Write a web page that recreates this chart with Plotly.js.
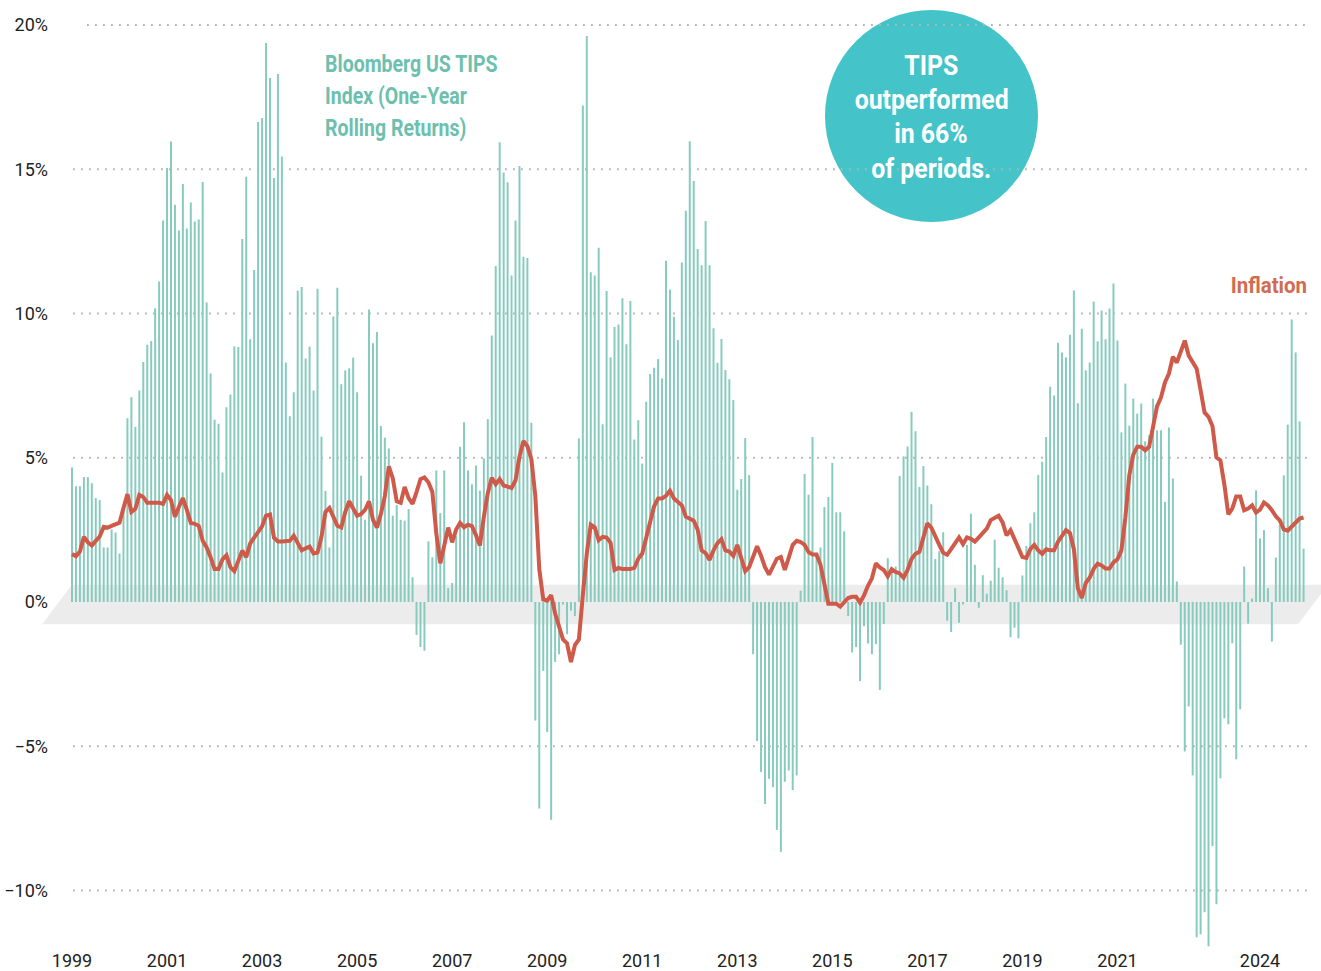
<!DOCTYPE html>
<html>
<head>
<meta charset="utf-8">
<script src="https://cdn.plot.ly/plotly-3.0.1.min.js"></script>
<style>html,body{margin:0;padding:0;background:#fff;}#chart{width:1321px;height:971px;}</style>
</head>
<body>
<div id="chart"></div>
<script>
// Monthly series, January 1999 through December 2024
const startYear = 1999;

// Bloomberg US TIPS Index, one-year rolling returns (%)
const tipsReturns = [
  4.66, 4.01, 4.01, 4.33, 4.33, 4.12, 3.60, 3.53, 1.89, 1.89, 2.51, 2.41,       // 1999
  1.68, 3.12, 6.37, 7.10, 6.07, 7.33, 8.32, 8.92, 9.05, 10.18, 11.11, 13.22,    // 2000
  15.04, 15.96, 13.77, 12.88, 14.49, 12.95, 13.85, 13.19, 13.26, 14.56, 10.38, 7.92, // 2001
  6.32, 6.18, 4.49, 6.75, 7.19, 8.86, 8.84, 12.58, 14.74, 9.11, 11.51, 16.64,   // 2002
  16.78, 19.38, 18.16, 14.70, 18.30, 15.44, 8.30, 6.44, 7.27, 10.79, 10.92, 8.44, // 2003
  8.85, 7.33, 10.86, 5.73, 3.85, 1.89, 9.90, 10.89, 7.55, 8.03, 8.10, 8.47,     // 2004
  7.27, 4.38, 2.85, 10.14, 8.97, 9.36, 6.10, 5.70, 5.32, 2.99, 3.36, 2.85,      // 2005
  2.82, 3.22, 0.86, -1.14, -1.56, -1.69, 2.10, 1.55, 4.56, 3.08, 4.56, 0.48,    // 2006
  0.66, 2.30, 5.38, 6.23, 4.56, 4.08, 4.73, 3.86, 4.98, 6.34, 9.24, 11.65,      // 2007
  15.94, 14.89, 14.55, 11.32, 13.22, 15.11, 11.97, 11.92, 6.21, -4.11, -7.16, -2.39, // 2008
  -4.51, -7.55, -2.08, -1.81, -0.09, -1.12, -0.30, -0.49, 5.67, 17.21, 19.62, 11.43, // 2009
  11.32, 12.28, 6.16, 10.78, 8.48, 9.53, 9.62, 10.53, 8.93, 10.43, 5.63, 6.30,  // 2010
  4.80, 6.94, 7.90, 8.12, 8.42, 7.75, 11.83, 10.83, 9.89, 9.08, 11.77, 13.56,   // 2011
  15.97, 14.59, 12.24, 11.67, 13.21, 11.67, 9.49, 8.29, 9.12, 8.04, 7.72, 7.00, // 2012
  3.89, 4.26, 5.68, 4.40, -1.81, -4.82, -5.89, -7.00, -6.13, -6.42, -7.90, -8.66, // 2013
  -6.23, -5.84, -6.52, -6.01, 0.39, 4.44, 3.72, 5.72, 1.60, 1.89, 3.29, 3.64,   // 2014
  4.82, 3.11, 3.11, 2.45, -0.49, -1.75, -1.56, -2.74, -0.84, -1.44, -1.81, -1.46, // 2015
  -3.05, -0.76, 1.52, 1.16, 1.23, 4.37, 5.05, 5.39, 6.59, 5.92, 3.99, 4.71,     // 2016
  4.04, 3.39, 1.49, 1.76, 2.42, -0.65, -1.04, 0.48, -0.72, -0.09, 1.98, 3.06,   // 2017
  1.29, -0.20, 0.93, 0.29, 0.74, 2.16, 1.19, 0.86, 0.41, -1.22, -0.89, -1.26,   // 2018
  0.92, 1.94, 2.73, 3.11, 4.40, 4.86, 5.72, 7.46, 7.16, 8.99, 8.65, 8.48,       // 2019
  9.26, 10.80, 6.89, 9.47, 8.03, 8.30, 10.42, 9.04, 10.10, 9.11, 10.17, 11.04,  // 2020
  9.06, 5.88, 7.57, 6.11, 7.05, 6.53, 6.88, 5.57, 5.78, 7.05, 5.95, 5.95,       // 2021
  3.47, 6.05, 4.28, 0.71, -1.48, -5.18, -3.62, -6.01, -11.62, -11.52, -10.75, -11.93, // 2022
  -8.46, -10.48, -6.11, -4.03, -4.24, -1.43, -5.45, -3.72, 1.23, -0.75, 0.12, 3.87, // 2023
  2.20, 2.49, 0.48, -1.37, 1.54, 2.68, 4.39, 6.15, 9.79, 8.65, 6.26, 1.85       // 2024
];

// Inflation, year-over-year (%)
const inflation = [
  1.66, 1.59, 1.75, 2.26, 2.07, 1.96, 2.12, 2.27, 2.60, 2.58, 2.64, 2.68,  // 1999
  2.75, 3.26, 3.74, 3.12, 3.23, 3.71, 3.64, 3.44, 3.44, 3.44, 3.44, 3.40,  // 2000
  3.71, 3.53, 2.95, 3.30, 3.60, 3.19, 2.74, 2.71, 2.64, 2.12, 1.89, 1.55,  // 2001
  1.14, 1.14, 1.48, 1.62, 1.21, 1.07, 1.44, 1.78, 1.55, 2.03, 2.23, 2.44,  // 2002
  2.62, 2.99, 3.03, 2.23, 2.10, 2.10, 2.10, 2.12, 2.30, 2.03, 1.79, 1.86,  // 2003
  1.92, 1.68, 1.71, 2.26, 3.12, 3.26, 2.92, 2.64, 2.58, 3.12, 3.49, 3.23,  // 2004
  2.99, 3.05, 3.19, 3.49, 2.85, 2.58, 3.05, 3.67, 4.70, 4.29, 3.49, 3.44,  // 2005
  3.99, 3.60, 3.40, 3.81, 4.26, 4.32, 4.15, 3.81, 2.37, 1.34, 1.96, 2.58,  // 2006
  2.07, 2.51, 2.74, 2.59, 2.68, 2.63, 2.32, 1.96, 2.95, 3.77, 4.31, 4.08,  // 2007
  4.26, 4.04, 4.00, 3.95, 4.22, 5.04, 5.58, 5.40, 4.95, 3.68, 1.14, 0.09,  // 2008
  0.05, 0.24, -0.40, -0.85, -1.30, -1.43, -2.08, -1.49, -1.30, 0.24, 1.68, 2.68, // 2009
  2.59, 2.14, 2.26, 2.23, 2.05, 1.11, 1.18, 1.14, 1.14, 1.14, 1.18, 1.50,  // 2010
  1.68, 2.23, 2.77, 3.32, 3.59, 3.59, 3.68, 3.86, 3.59, 3.46, 3.35, 2.96,  // 2011
  2.90, 2.82, 2.51, 1.79, 1.69, 1.46, 1.79, 2.04, 2.18, 1.79, 1.75, 1.60,  // 2012
  1.98, 1.46, 1.07, 1.21, 1.60, 1.93, 1.60, 1.21, 0.95, 1.26, 1.50, 1.56,  // 2013
  1.11, 1.54, 1.98, 2.12, 2.08, 1.98, 1.73, 1.65, 1.65, 1.30, 0.62, -0.06, // 2014
  -0.06, -0.06, -0.16, -0.02, 0.14, 0.18, 0.18, -0.02, 0.23, 0.56, 0.82, 1.34, // 2015
  1.20, 1.11, 0.89, 1.14, 1.04, 0.99, 0.84, 1.11, 1.49, 1.67, 1.74, 2.24,  // 2016
  2.73, 2.58, 2.24, 1.98, 1.71, 1.64, 1.83, 2.01, 2.24, 2.01, 2.24, 2.19,  // 2017
  2.09, 2.24, 2.39, 2.54, 2.84, 2.91, 2.99, 2.76, 2.31, 2.49, 2.19, 1.83,  // 2018
  1.56, 1.53, 1.83, 1.98, 1.79, 1.67, 1.83, 1.79, 1.79, 2.09, 2.31, 2.49,  // 2019
  2.39, 1.83, 0.48, 0.14, 0.66, 0.85, 1.15, 1.33, 1.27, 1.16, 1.16, 1.37,  // 2020
  1.48, 1.79, 2.93, 4.39, 5.11, 5.38, 5.38, 5.26, 5.38, 6.05, 6.78, 7.09,  // 2021
  7.61, 7.92, 8.50, 8.30, 8.65, 9.06, 8.54, 8.30, 8.09, 7.34, 6.57, 6.42,  // 2022
  6.09, 5.01, 4.91, 4.07, 3.04, 3.24, 3.66, 3.66, 3.18, 3.24, 3.35, 3.10,  // 2023
  3.20, 3.45, 3.35, 3.18, 2.97, 2.83, 2.52, 2.47, 2.62, 2.77, 2.89, 2.93   // 2024
];

const xTickYears = [1999, 2001, 2003, 2005, 2007, 2009, 2011, 2013, 2015, 2017, 2019, 2021, 2024];
const xTickLabels = ["1999", "2001", "2003", "2005", "2007", "2009", "2011", "2013", "2015", "2017", "2019", "2021", "2024"];
const yTickValues = [-10, -5, 0, 5, 10, 15, 20];
const yTickLabels = ["\u221210%", "\u22125%", "0%", "5%", "10%", "15%", "20%"];
const gridValues = [-10, -5, 5, 10, 15, 20];

const seriesLabel = ["Bloomberg US TIPS", "Index (One-Year", "Rolling Returns)"];
const calloutLines = ["TIPS", "outperformed", "in 66%", "of periods."];
const inflationLabel = "Inflation";

// month positions on a decimal-year axis
const months = tipsReturns.map((_, i) => startYear + i / 12);

// ---------- layout geometry (pixels) ----------
const W = 1321, H = 971;
const mL = 58, mR = 0, mT = 10, mB = 23;
const plotW = W - mL - mR, plotH = H - mT - mB;
const px2paperX = p => (p - mL) / plotW;
const px2paperY = p => (H - mB - p) / plotH;

const boldFont = "Roboto, 'Open Sans', sans-serif";
const tickFont = {family: "Roboto, 'Open Sans', sans-serif", size: 18, color: "#222222"};

const shapes = [];
// floor band at zero
shapes.push({
  type: "path", xref: "paper", yref: "y", layer: "below",
  path: `M ${px2paperX(72)},0.60 L ${px2paperX(1328)},0.60 L ${px2paperX(1298)},-0.77 L ${px2paperX(42)},-0.77 Z`,
  fillcolor: "#ececec", line: {width: 0}
});
// call-out circle
shapes.push({
  type: "circle", xref: "paper", yref: "paper", layer: "below",
  x0: px2paperX(825), x1: px2paperX(1038), y0: px2paperY(222), y1: px2paperY(10),
  fillcolor: "#44c4c8", line: {width: 0}
});
// dotted gridlines
gridValues.forEach(v => {
  shapes.push({
    type: "line", xref: "paper", yref: "y", layer: "below",
    x0: px2paperX(v === 20 ? 87 : 73), x1: px2paperX(1310), y0: v, y1: v,
    line: {color: "#b3b3b3", width: 1.8, dash: "1.8px,6.2px"}
  });
});

// annotations, with a horizontal squeeze to imitate the condensed face
const annotations = [];
const squeeze = [];
seriesLabel.forEach((t, k) => {
  annotations.push({
    text: t, x: px2paperX(323), y: px2paperY(64 + 32 * k), xref: "paper", yref: "paper",
    xanchor: "left", yanchor: "middle", showarrow: false,
    font: {family: boldFont, size: 23.5, color: "#6dc0ae", weight: 700}
  });
  squeeze.push({s: 0.83, o: "left"});
});
[66, 100, 134, 169].forEach((py, k) => {
  annotations.push({
    text: calloutLines[k], x: px2paperX(931), y: px2paperY(py), xref: "paper", yref: "paper",
    xanchor: "center", yanchor: "middle", showarrow: false,
    font: {family: boldFont, size: 27, color: "#ffffff", weight: 700}
  });
  squeeze.push({s: 0.92, o: "center"});
});
annotations.push({
  text: inflationLabel, x: px2paperX(1309), y: px2paperY(285), xref: "paper", yref: "paper",
  xanchor: "right", yanchor: "middle", showarrow: false,
  font: {family: boldFont, size: 22, color: "#d06c50", weight: 700}
});
squeeze.push({s: 0.93, o: "right"});

const traces = [
  {
    type: "bar", x: months, y: tipsReturns, width: 0.5 / 12,
    marker: {color: "#86cbbd", line: {width: 0}},
    hoverinfo: "skip", showlegend: false
  },
  {
    type: "scatter", mode: "lines", x: months, y: inflation,
    line: {color: "#cf5a49", width: 4},
    hoverinfo: "skip", showlegend: false
  }
];

const layout = {
  width: W, height: H,
  margin: {l: mL, r: mR, t: mT, b: mB, pad: 0},
  paper_bgcolor: "#ffffff", plot_bgcolor: "rgba(0,0,0,0)",
  showlegend: false,
  xaxis: {
    range: [startYear - 14 / 47.52, startYear - 14 / 47.52 + plotW / 47.52],
    tickmode: "array", tickvals: xTickYears, ticktext: xTickLabels,
    showgrid: false, zeroline: false, showline: false, ticks: "",
    tickfont: tickFont, fixedrange: true
  },
  yaxis: {
    range: [-(H - mB - 602) / 28.85, (602 - mT) / 28.85],
    tickmode: "array", tickvals: yTickValues, ticktext: yTickLabels,
    showgrid: false, zeroline: false, showline: false, ticks: "",
    tickfont: tickFont, ticklabelstandoff: 9, fixedrange: true
  },
  shapes: shapes,
  annotations: annotations
};

Plotly.newPlot("chart", traces, layout, {displayModeBar: false, staticPlot: true}).then(gd => {
  gd.querySelectorAll("g.annotation").forEach(g => {
    const k = +g.getAttribute("data-index");
    const t = g.querySelector("text.annotation-text");
    if (!t || !squeeze[k]) return;
    t.style.transformBox = "fill-box";
    t.style.transformOrigin = squeeze[k].o + " center";
    t.style.transform = "scaleX(" + squeeze[k].s + ")";
  });
});
</script>
</body>
</html>
